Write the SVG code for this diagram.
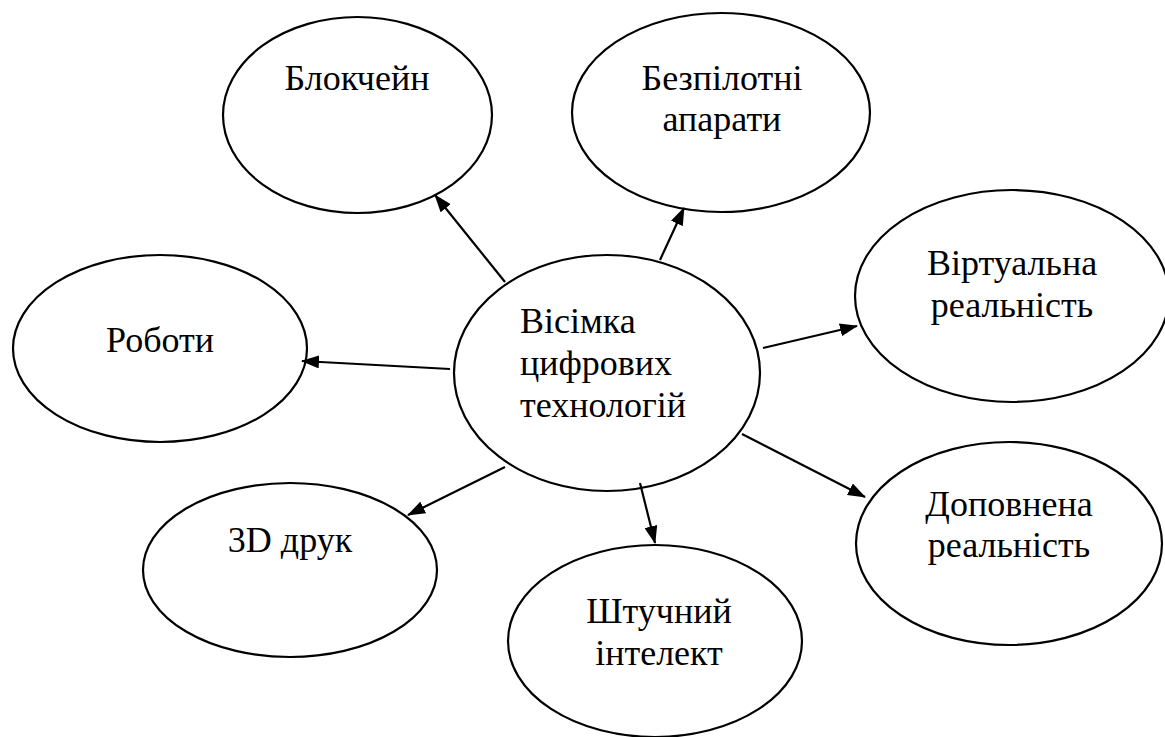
<svg xmlns="http://www.w3.org/2000/svg" width="1165" height="737" viewBox="0 0 1165 737">
<style>
.n{fill:#fff;stroke:#000;stroke-width:2.2}
.t{font-family:'Liberation Serif','Times New Roman',serif;font-size:36px;fill:#000}
.c{stroke:#000;stroke-width:2.2;fill:none;marker-end:url(#ah)}
</style>
<defs>
<marker id="ah" viewBox="0 0 18 13" refX="17" refY="6.5" markerWidth="18" markerHeight="13" markerUnits="userSpaceOnUse" orient="auto">
<path d="M0,0 L18,6.5 L0,13 z" fill="#000"/>
</marker>
</defs>
<rect width="1165" height="737" fill="#fff"/>
<g id="center">
<ellipse class="n" cx="607" cy="373" rx="153" ry="118"/>
<text class="t"><tspan x="520" y="333">Вісімка</tspan><tspan x="520" y="375">цифрових</tspan><tspan x="520" y="417">технологій</tspan></text>
</g>
<g id="blockchain">
<ellipse class="n" cx="357.5" cy="115" rx="134.5" ry="98"/>
<text class="t" x="357" y="90" text-anchor="middle">Блокчейн</text>
</g>
<g id="drones">
<ellipse class="n" cx="721" cy="112.5" rx="149" ry="99.5"/>
<text class="t" text-anchor="middle"><tspan x="722" y="90">Безпілотні</tspan><tspan x="722" y="131">апарати</tspan></text>
</g>
<g id="vr">
<ellipse class="n" cx="1012" cy="296" rx="157" ry="106"/>
<text class="t" text-anchor="middle"><tspan x="1012" y="275">Віртуальна</tspan><tspan x="1012" y="317">реальність</tspan></text>
</g>
<g id="robots">
<ellipse class="n" cx="160" cy="348.5" rx="147" ry="93.5"/>
<text class="t" x="160" y="352" text-anchor="middle">Роботи</text>
</g>
<g id="print3d">
<ellipse class="n" cx="290" cy="570" rx="147" ry="87"/>
<text class="t" x="290" y="552" text-anchor="middle">3D друк</text>
</g>
<g id="ai">
<ellipse class="n" cx="655" cy="641" rx="147" ry="96"/>
<text class="t" text-anchor="middle"><tspan x="659" y="623">Штучний</tspan><tspan x="659" y="665">інтелект</tspan></text>
</g>
<g id="ar">
<ellipse class="n" cx="1009" cy="543.5" rx="153" ry="101.5"/>
<text class="t" text-anchor="middle"><tspan x="1009" y="516">Доповнена</tspan><tspan x="1009" y="557">реальність</tspan></text>
</g>
<g id="connectors">
<line class="c" x1="505" y1="282" x2="435" y2="195"/>
<line class="c" x1="660" y1="260" x2="684" y2="208"/>
<line class="c" x1="763" y1="348" x2="857" y2="326"/>
<line class="c" x1="450" y1="369" x2="302" y2="361"/>
<line class="c" x1="505" y1="467" x2="408" y2="515"/>
<line class="c" x1="640" y1="483" x2="655" y2="543"/>
<line class="c" x1="742" y1="434" x2="865" y2="497"/>
</g>
</svg>
